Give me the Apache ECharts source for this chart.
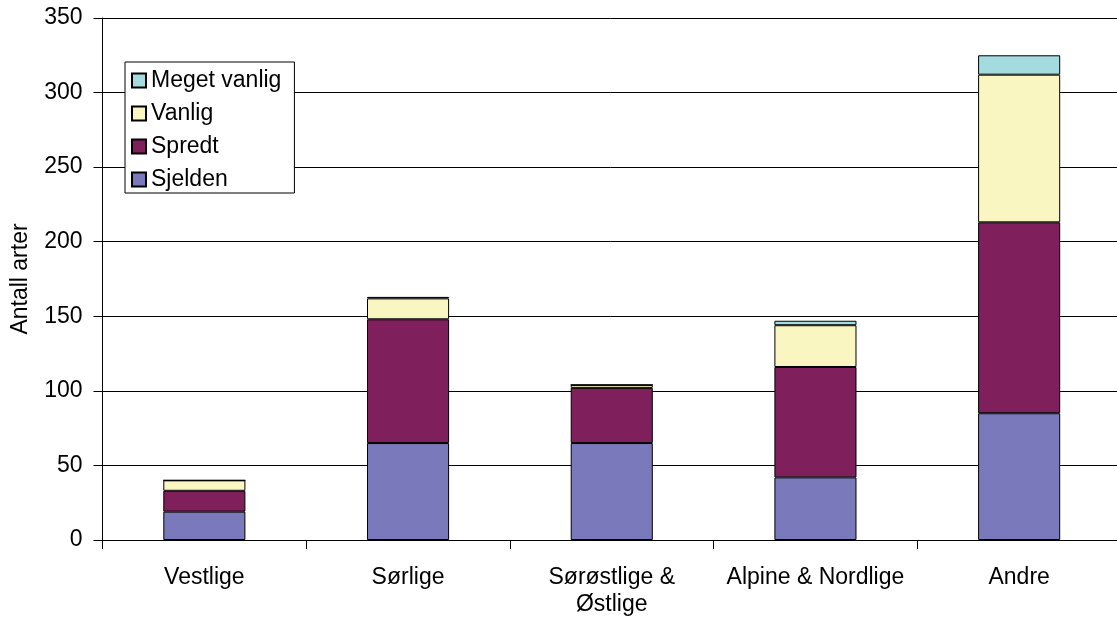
<!DOCTYPE html>
<html>
<head>
<meta charset="utf-8">
<script src="https://cdn.jsdelivr.net/npm/echarts@6/dist/echarts.min.js"></script>
<style>
  html, body { margin: 0; padding: 0; background: #fff; overflow: hidden; }
  #chart { width: 1117px; height: 617px; }
</style>
</head>
<body>
<div id="chart"></div>
<script>
// Regions and number of species per frequency class
const categories = ['Vestlige', 'Sørlige', 'Sørøstlige &\nØstlige', 'Alpine & Nordlige', 'Andre'];
const sjelden     = [19, 65, 65, 42, 85];
const spredt      = [14, 83, 37, 74, 128];
const vanlig      = [7, 14, 2, 28, 99];
const megetVanlig = [0, 1, 0, 3, 13];
const yTicks = { min: 0, max: 350, interval: 50 };

const font = '"Liberation Sans", Arial, sans-serif';
const fs = 23;
const chart = echarts.init(document.getElementById('chart'));

function bar(name, data, color) {
  return {
    name: name,
    type: 'bar',
    stack: 'total',
    data: data,
    barWidth: '40.3%',
    itemStyle: { color: color, borderColor: '#000', borderWidth: 1 }
  };
}

chart.setOption({
  animation: false,
  textStyle: { fontFamily: font },
  // plot area runs past the right edge of the canvas
  grid: { left: 102.5, top: 18, width: 1018.5, bottom: 77, outerBoundsMode: 'none', containLabel: false },
  legend: {
    orient: 'vertical',
    left: 125,
    top: 62,
    padding: [7, 13, 2, 6],
    backgroundColor: '#fff',
    borderColor: '#000',
    borderWidth: 1,
    borderRadius: 0,
    icon: 'rect',
    itemWidth: 14,
    itemHeight: 14,
    itemGap: 10,
    data: ['Meget vanlig', 'Vanlig', 'Spredt', 'Sjelden'],
    textStyle: { fontSize: fs, color: '#000', fontFamily: font, lineHeight: 23 }
  },
  xAxis: {
    type: 'category',
    data: categories,
    axisLine: { lineStyle: { color: '#000', width: 1 } },
    axisTick: { show: true, length: 9, alignWithLabel: false, lineStyle: { color: '#000' } },
    axisLabel: { color: '#000', fontSize: fs, margin: 24, lineHeight: 27, fontFamily: font, interval: 0 }
  },
  yAxis: {
    type: 'value',
    min: yTicks.min,
    max: yTicks.max,
    interval: yTicks.interval,
    name: 'Antall arter',
    nameLocation: 'middle',
    nameRotate: 90,
    nameGap: 70,
    nameTextStyle: { color: '#000', fontSize: fs, fontFamily: font },
    axisLine: { show: true, lineStyle: { color: '#000', width: 1 } },
    axisTick: { show: true, length: 9, lineStyle: { color: '#000' } },
    axisLabel: { color: '#000', fontSize: fs, margin: 20, fontFamily: font },
    splitLine: { show: true, lineStyle: { color: '#000', width: 1 } }
  },
  series: [
    bar('Sjelden', sjelden, '#7979BC'),
    bar('Spredt', spredt, '#7F1F5B'),
    bar('Vanlig', vanlig, '#F9F6C1'),
    bar('Meget vanlig', megetVanlig, '#A3DBDE')
  ]
});
</script>
</body>
</html>
